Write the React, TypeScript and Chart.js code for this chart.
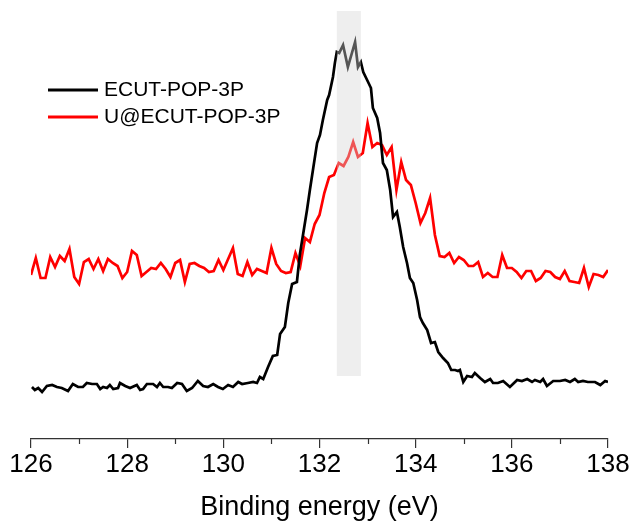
import React, { useEffect, useRef } from "react";
import { Chart, registerables } from "chart.js";

Chart.register(...registerables);

// Binding energy (eV) and intensity (a.u.) for ECUT-POP-3P
const blackEnergy = [
  126.02, 126.08, 126.15, 126.23, 126.33, 126.44, 126.54, 126.64, 126.77, 126.87,
  126.98, 127.08, 127.16, 127.27, 127.37, 127.44, 127.5, 127.58, 127.64, 127.71,
  127.81, 127.85, 127.96, 128.06, 128.2, 128.27, 128.33, 128.41, 128.54, 128.62,
  128.68, 128.75, 128.85, 128.93, 129.04, 129.14, 129.24, 129.35, 129.47, 129.58,
  129.68, 129.79, 129.89, 129.99, 130.1, 130.2, 130.31, 130.39, 130.51, 130.62,
  130.7, 130.76, 130.83, 130.93, 131.03, 131.12, 131.18, 131.28, 131.35, 131.43,
  131.53, 131.59, 131.68, 131.74, 131.8, 131.87, 131.95, 132.01, 132.07, 132.16,
  132.2, 132.28, 132.32, 132.36, 132.41, 132.49, 132.59, 132.74, 132.8, 132.86,
  132.91, 132.99, 133.07, 133.11, 133.2, 133.26, 133.32, 133.4, 133.47, 133.53,
  133.61, 133.67, 133.74, 133.82, 133.88, 133.95, 134.03, 134.09, 134.15, 134.24,
  134.32, 134.4, 134.47, 134.57, 134.67, 134.74, 134.82, 134.88, 134.92, 134.99,
  135.07, 135.17, 135.23, 135.34, 135.44, 135.55, 135.61, 135.71, 135.82, 135.96,
  136.11, 136.21, 136.32, 136.42, 136.48, 136.59, 136.65, 136.73, 136.86, 137.0,
  137.11, 137.21, 137.31, 137.38, 137.48, 137.58, 137.73, 137.84, 137.94, 138.0,
];
const blackIntensity = [
  52, 49, 51, 47, 53, 54, 52, 51, 48, 55,
  52, 52, 56, 55, 55, 50, 52, 51, 54, 50,
  51, 56, 53, 51, 54, 49, 50, 55, 55, 52,
  56, 52, 52, 51, 56, 55, 48, 51, 58, 53,
  52, 55, 52, 50, 54, 52, 57, 55, 56, 57,
  56, 62, 60, 72, 83, 84, 105, 112, 136, 155,
  157, 184, 211, 229, 249, 271, 296, 304, 319, 339,
  344, 362, 376, 387, 386, 394, 372, 397, 372, 377,
  367, 359, 351, 331, 321, 306, 276, 269, 249, 222,
  227, 212, 192, 176, 161, 156, 139, 122, 116, 109,
  96, 97, 87, 81, 76, 69, 69, 68, 69, 57,
  63, 62, 66, 61, 57, 60, 56, 56, 58, 52,
  59, 58, 60, 57, 59, 57, 60, 53, 58, 58,
  59, 57, 60, 57, 58, 57, 57, 54, 58, 57,
];

// Binding energy (eV) and intensity (a.u.) for U@ECUT-POP-3P
const redEnergy = [
  126.0, 126.1, 126.2, 126.3, 126.4, 126.5, 126.6, 126.7, 126.8, 126.9,
  127.0, 127.1, 127.2, 127.3, 127.4, 127.5, 127.6, 127.7, 127.8, 127.9,
  128.0, 128.1, 128.2, 128.3, 128.4, 128.5, 128.6, 128.7, 128.8, 128.9,
  129.0, 129.1, 129.2, 129.3, 129.4, 129.5, 129.6, 129.7, 129.8, 129.9,
  130.0, 130.1, 130.2, 130.3, 130.4, 130.5, 130.6, 130.7, 130.8, 130.9,
  131.0, 131.1, 131.2, 131.3, 131.4, 131.5, 131.6, 131.7, 131.8, 131.9,
  132.0, 132.1, 132.2, 132.3, 132.4, 132.5, 132.6, 132.7, 132.8, 132.9,
  133.0, 133.1, 133.2, 133.3, 133.4, 133.5, 133.6, 133.7, 133.8, 133.9,
  134.0, 134.1, 134.2, 134.3, 134.4, 134.5, 134.6, 134.7, 134.8, 134.9,
  135.0, 135.1, 135.2, 135.3, 135.4, 135.5, 135.6, 135.7, 135.8, 135.9,
  136.0, 136.1, 136.2, 136.3, 136.4, 136.5, 136.6, 136.7, 136.8, 136.9,
  137.0, 137.1, 137.2, 137.3, 137.4, 137.5, 137.6, 137.7, 137.8, 137.9,
  138.0,
];
const redIntensity = [
  164, 181, 161, 161, 182, 172, 183, 178, 190, 162,
  155, 177, 180, 170, 180, 168, 180, 176, 173, 161,
  167, 188, 184, 163, 167, 171, 170, 176, 170, 162,
  176, 179, 157, 175, 176, 173, 171, 167, 168, 179,
  169, 180, 191, 165, 163, 177, 164, 170, 168, 166,
  191, 175, 168, 166, 167, 186, 173, 201, 197, 215,
  224, 246, 262, 264, 276, 273, 282, 297, 282, 286,
  316, 292, 296, 294, 284, 292, 249, 277, 259, 254,
  236, 216, 226, 241, 204, 183, 182, 186, 176, 182,
  179, 173, 173, 177, 162, 166, 162, 162, 184, 171,
  171, 167, 161, 168, 168, 158, 161, 168, 167, 162,
  160, 168, 158, 157, 156, 171, 152, 165, 164, 162,
  169,
];

const seriesNames = ["ECUT-POP-3P", "U@ECUT-POP-3P"];
const seriesColors = ["#000000", "#ff0000"];
const xTickMin = 126;
const xTickMax = 138;
const xTickStep = 2;
const minorTicks = [127, 129, 131, 133, 135, 137];
const highlightRange = [132.36, 132.86];
const highlightIntensity = [63, 428];
const xTitle = "Binding energy (eV)";

const FONT = "'Liberation Sans', Arial, sans-serif";

export default function App() {
  const ref = useRef<HTMLCanvasElement | null>(null);

  useEffect(() => {
    if (!ref.current) return;

    const extras = {
      id: "extras",
      afterDatasetsDraw(chart: any) {
        const { ctx, scales } = chart;
        const xs = scales.x;
        const ys = scales.y;
        const x0 = xs.getPixelForValue(highlightRange[0]);
        const x1 = xs.getPixelForValue(highlightRange[1]);
        const y0 = ys.getPixelForValue(highlightIntensity[1]);
        const y1 = ys.getPixelForValue(highlightIntensity[0]);
        ctx.save();
        ctx.fillStyle = "rgba(212,212,212,0.4)";
        ctx.fillRect(x0, y0, x1 - x0, y1 - y0);
        ctx.restore();
      },
      afterDraw(chart: any) {
        const { ctx, scales, chartArea } = chart;
        const xs = scales.x;
        ctx.save();
        ctx.strokeStyle = "#333";
        ctx.lineWidth = 1.2;
        for (const v of minorTicks) {
          const px = Math.round(xs.getPixelForValue(v)) + 0.5;
          ctx.beginPath();
          ctx.moveTo(px, chartArea.bottom);
          ctx.lineTo(px, chartArea.bottom + 5);
          ctx.stroke();
        }
        // legend
        const rows = [90, 117];
        seriesNames.forEach((name, i) => {
          ctx.strokeStyle = seriesColors[i];
          ctx.lineWidth = 2.8;
          ctx.beginPath();
          ctx.moveTo(48, rows[i]);
          ctx.lineTo(98, rows[i]);
          ctx.stroke();
          ctx.fillStyle = "#000";
          ctx.font = `21px ${FONT}`;
          ctx.textBaseline = "middle";
          ctx.textAlign = "left";
          ctx.fillText(name, 104, rows[i]);
        });
        ctx.restore();
      },
    };

    const chart = new Chart(ref.current, {
      type: "line",
      data: {
        datasets: [
          {
            label: seriesNames[0],
            data: blackEnergy.map((e, i) => ({ x: e, y: blackIntensity[i] })),
            borderColor: seriesColors[0],
            borderWidth: 2.7,
            pointRadius: 0,
            tension: 0,
            fill: false,
          },
          {
            label: seriesNames[1],
            data: redEnergy.map((e, i) => ({ x: e, y: redIntensity[i] })),
            borderColor: seriesColors[1],
            borderWidth: 2.7,
            pointRadius: 0,
            tension: 0,
            fill: false,
          },
        ],
      },
      options: {
        animation: false,
        responsive: true,
        maintainAspectRatio: false,
        layout: { padding: { left: 31, right: 27, top: 10, bottom: 0 } },
        plugins: {
          legend: { display: false },
          tooltip: { enabled: false },
        },
        scales: {
          x: {
            type: "linear",
            min: xTickMin,
            max: xTickMax,
            afterFit(scale: any) {
              scale.height = 90;
            },
            ticks: {
              stepSize: xTickStep,
              color: "#000",
              font: { family: FONT, size: 26 },
              padding: 1,
              maxRotation: 0,
            },
            grid: {
              display: true,
              drawOnChartArea: false,
              drawTicks: true,
              tickLength: 9,
              color: "#333",
              lineWidth: 1.2,
            },
            border: { display: true, color: "#333", width: 1.2 },
            title: {
              display: true,
              text: xTitle,
              color: "#000",
              font: { family: FONT, size: 27 },
              padding: { top: 0, bottom: 5 },
            },
          },
          y: {
            display: false,
            min: 0,
            max: 429,
          },
        },
      },
      plugins: [extras],
    });
    return () => chart.destroy();
  }, []);

  return (
    <div style={{ position: "fixed", left: 0, top: 0, width: 635, height: 529, background: "#fff" }}>
      <canvas ref={ref} />
    </div>
  );
}
